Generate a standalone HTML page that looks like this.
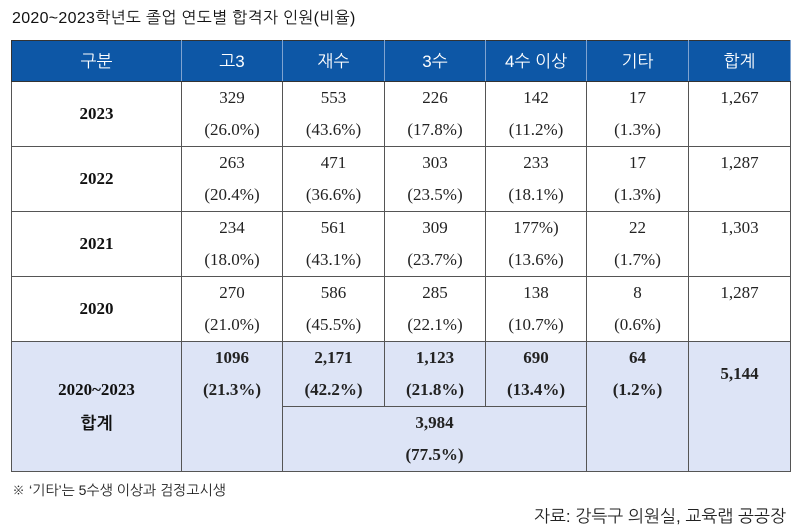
<!DOCTYPE html>
<html><head><meta charset="utf-8"><style>
body{margin:0;width:800px;height:532px;background:#fff;position:relative;overflow:hidden;font-family:"Liberation Serif","Noto Serif CJK SC","NanumGothic",serif;color:#222}
.title{position:absolute;left:12px;top:8px;font-size:16px;font-family:"Liberation Sans","NanumGothic","Noto Sans CJK KR",sans-serif;color:#111;letter-spacing:0.3px}
table{position:absolute;left:11px;top:40px;border-collapse:collapse;table-layout:fixed}
td{border:1px solid #555;text-align:center;font-size:17px;line-height:32px;padding:0;vertical-align:top}
th{background:#0d57a6;color:#fff;font-weight:normal;font-size:17px;height:38px;border:1px solid #333;border-right:1px solid #7fa3d0;font-family:"Liberation Sans","NanumGothic","Noto Sans CJK KR",sans-serif}
.y{vertical-align:middle;font-size:17px;font-weight:bold;color:#111}
.tot td{background:#dde4f6}
.k{font-family:"Liberation Sans","NanumGothic","Noto Sans CJK KR",sans-serif}
.note{position:absolute;left:12px;top:482px;font-size:14px;font-family:"Liberation Sans","NanumGothic","Noto Sans CJK KR",sans-serif}
.src{position:absolute;right:14px;top:506px;font-size:17px;font-family:"Liberation Sans","NanumGothic","Noto Sans CJK KR",sans-serif}
</style></head><body>
<div class="title">2020~2023학년도 졸업 연도별 합격자 인원(비율)</div>
<table>
<colgroup><col style="width:170px"><col style="width:101px"><col style="width:102px"><col style="width:101px"><col style="width:101px"><col style="width:102px"><col style="width:102px"></colgroup>
<tr><th>구분</th><th>고3</th><th>재수</th><th>3수</th><th>4수 이상</th><th>기타</th><th>합계</th></tr>
<tr style="height:65px"><td class="y">2023</td><td>329<br>(26.0%)</td><td>553<br>(43.6%)</td><td>226<br>(17.8%)</td><td>142<br>(11.2%)</td><td>17<br>(1.3%)</td><td>1,267</td></tr>
<tr style="height:65px"><td class="y">2022</td><td>263<br>(20.4%)</td><td>471<br>(36.6%)</td><td>303<br>(23.5%)</td><td>233<br>(18.1%)</td><td>17<br>(1.3%)</td><td>1,287</td></tr>
<tr style="height:65px"><td class="y">2021</td><td>234<br>(18.0%)</td><td>561<br>(43.1%)</td><td>309<br>(23.7%)</td><td>177%)<br>(13.6%)</td><td>22<br>(1.7%)</td><td>1,303</td></tr>
<tr style="height:65px"><td class="y">2020</td><td>270<br>(21.0%)</td><td>586<br>(45.5%)</td><td>285<br>(22.1%)</td><td>138<br>(10.7%)</td><td>8<br>(0.6%)</td><td>1,287</td></tr>
<tr class="tot" style="height:63px"><td rowspan="2" class="y" style="line-height:34px">2020~2023<br><span class="k">합계</span></td><td rowspan="2" style="font-weight:bold">1096<br>(21.3%)</td><td style="font-weight:bold">2,171<br>(42.2%)</td><td style="font-weight:bold">1,123<br>(21.8%)</td><td style="font-weight:bold">690<br>(13.4%)</td><td rowspan="2" style="font-weight:bold">64<br>(1.2%)</td><td rowspan="2" style="padding-top:16px;font-weight:bold">5,144</td></tr>
<tr class="tot" style="height:65px"><td colspan="3" style="font-weight:bold">3,984<br>(77.5%)</td></tr>
</table>
<div class="note">※ ‘기타’는 5수생 이상과 검정고시생</div>
<div class="src">자료: 강득구 의원실, 교육랩 공공장</div>
</body></html>
